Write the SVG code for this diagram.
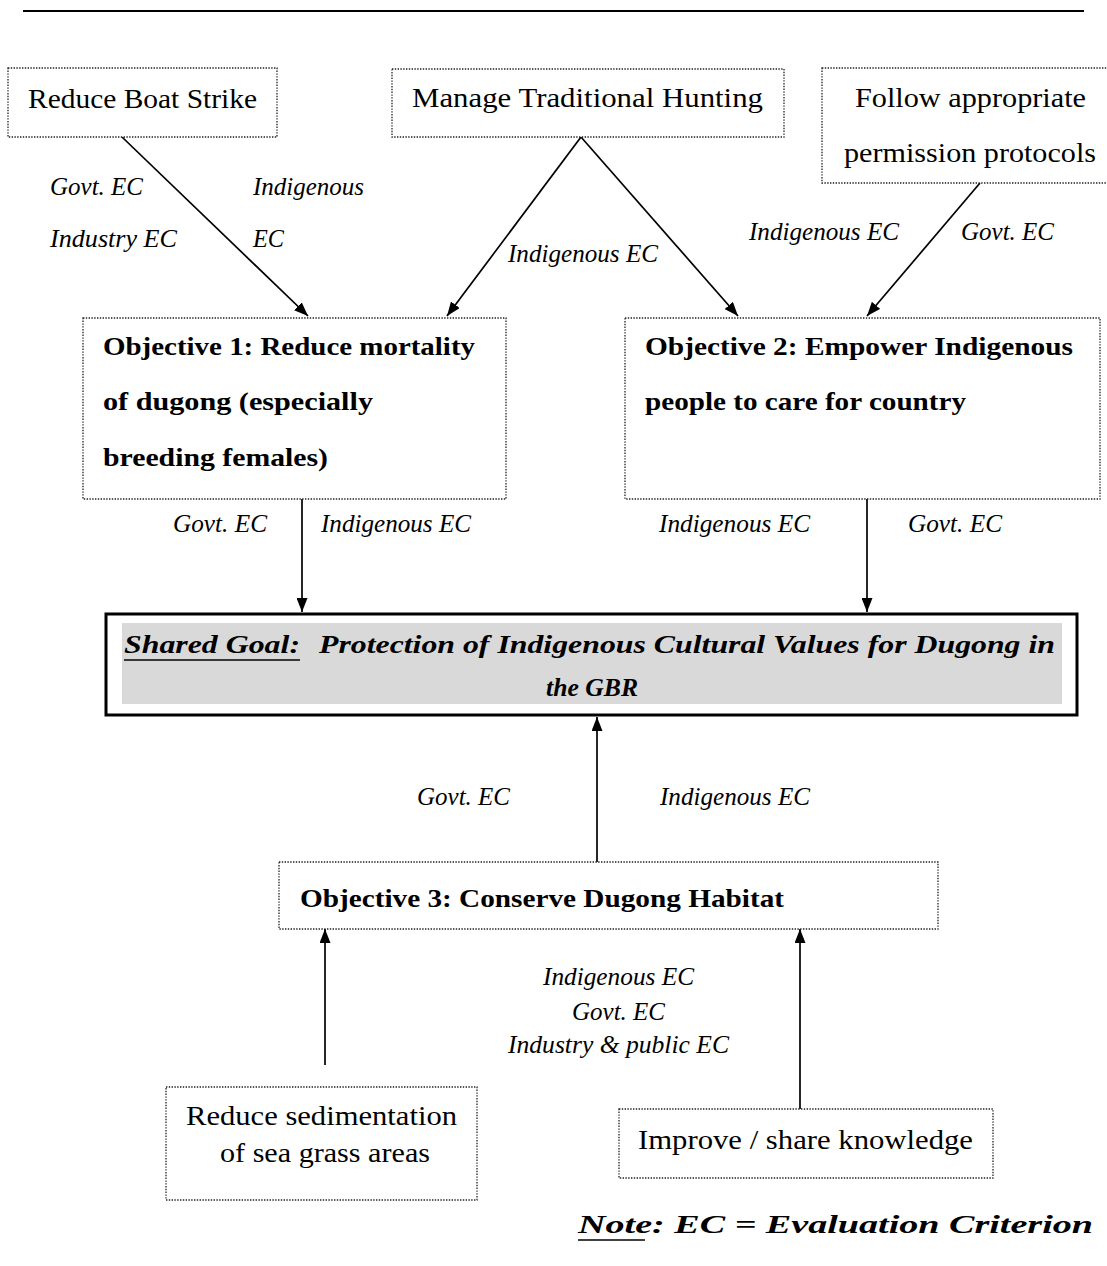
<svg xmlns="http://www.w3.org/2000/svg" width="1107" height="1266" viewBox="0 0 1107 1266">
<defs>
<marker id="arr" viewBox="0 0 14 11" refX="14" refY="5.5" markerWidth="14" markerHeight="11" markerUnits="userSpaceOnUse" orient="auto">
<path d="M0,0 L14,5.5 L0,11 Z" fill="#000"/>
</marker>
<style>
.box{fill:#fff;stroke:#222;stroke-width:1.3;stroke-dasharray:1.4 1.4}
.t{font-family:"Liberation Serif","DejaVu Serif",serif;font-size:27px;fill:#000}
.b{font-family:"Liberation Serif","DejaVu Serif",serif;font-size:26px;font-weight:bold;fill:#000}
.i{font-family:"Liberation Serif","DejaVu Serif",serif;font-size:25px;font-style:italic;fill:#000}
.bi{font-family:"Liberation Serif","DejaVu Serif",serif;font-size:26px;font-style:italic;font-weight:bold;fill:#000}
.c{stroke:#000;stroke-width:1.7;fill:none}
</style>
</defs>
<rect width="1107" height="1266" fill="#fff"/>
<line x1="23" y1="11" x2="1084" y2="11" stroke="#000" stroke-width="2.2"/>

<g id="connectors">
<line class="c" x1="122" y1="137" x2="308" y2="316" marker-end="url(#arr)"/>
<line class="c" x1="581" y1="137" x2="447" y2="316" marker-end="url(#arr)"/>
<line class="c" x1="581" y1="137" x2="738" y2="316" marker-end="url(#arr)"/>
<line class="c" x1="980" y1="183" x2="867" y2="316" marker-end="url(#arr)"/>
<line class="c" x1="302" y1="499" x2="302" y2="612" marker-end="url(#arr)"/>
<line class="c" x1="867" y1="499" x2="867" y2="612" marker-end="url(#arr)"/>
<line class="c" x1="597" y1="862" x2="597" y2="717" marker-end="url(#arr)"/>
<line class="c" x1="325" y1="1065" x2="325" y2="929" marker-end="url(#arr)"/>
<line class="c" x1="800" y1="1109" x2="800" y2="929" marker-end="url(#arr)"/>
</g>

<g id="labels">
<text class="i" x="50" y="195" textLength="93" lengthAdjust="spacingAndGlyphs">Govt. EC</text>
<text class="i" x="50" y="247" textLength="127" lengthAdjust="spacingAndGlyphs">Industry EC</text>
<text class="i" x="253" y="195" textLength="111" lengthAdjust="spacingAndGlyphs">Indigenous</text>
<text class="i" x="253" y="247" textLength="31" lengthAdjust="spacingAndGlyphs">EC</text>
<text class="i" x="508" y="262" textLength="150" lengthAdjust="spacingAndGlyphs">Indigenous EC</text>
<text class="i" x="749" y="240" textLength="150" lengthAdjust="spacingAndGlyphs">Indigenous EC</text>
<text class="i" x="961" y="240" textLength="93" lengthAdjust="spacingAndGlyphs">Govt. EC</text>
<text class="i" x="173" y="532" textLength="94" lengthAdjust="spacingAndGlyphs">Govt. EC</text>
<text class="i" x="321" y="532" textLength="150" lengthAdjust="spacingAndGlyphs">Indigenous EC</text>
<text class="i" x="659" y="532" textLength="151" lengthAdjust="spacingAndGlyphs">Indigenous EC</text>
<text class="i" x="908" y="532" textLength="94" lengthAdjust="spacingAndGlyphs">Govt. EC</text>
<text class="i" x="417" y="805" textLength="93" lengthAdjust="spacingAndGlyphs">Govt. EC</text>
<text class="i" x="660" y="805" textLength="150" lengthAdjust="spacingAndGlyphs">Indigenous EC</text>
<text class="i" x="543" y="985" textLength="151" lengthAdjust="spacingAndGlyphs">Indigenous EC</text>
<text class="i" x="572" y="1020" textLength="93" lengthAdjust="spacingAndGlyphs">Govt. EC</text>
<text class="i" x="508" y="1053" textLength="221" lengthAdjust="spacingAndGlyphs">Industry &amp; public EC</text>
</g>

<g id="node-boat">
<rect class="box" x="8" y="68" width="269" height="69"/>
<text class="t" x="28" y="108" textLength="229" lengthAdjust="spacingAndGlyphs">Reduce Boat Strike</text>
</g>
<g id="node-hunting">
<rect class="box" x="392" y="69" width="392" height="68"/>
<text class="t" x="412" y="107" textLength="351" lengthAdjust="spacingAndGlyphs">Manage Traditional Hunting</text>
</g>
<g id="node-permission">
<rect class="box" x="822" y="68" width="300" height="115"/>
<text class="t" x="855" y="107" textLength="231" lengthAdjust="spacingAndGlyphs">Follow appropriate</text>
<text class="t" x="844" y="162" textLength="252" lengthAdjust="spacingAndGlyphs">permission protocols</text>
</g>
<g id="node-obj1">
<rect class="box" x="83" y="318" width="423" height="181"/>
<text class="b" x="103" y="355" textLength="372" lengthAdjust="spacingAndGlyphs">Objective 1: Reduce mortality</text>
<text class="b" x="103" y="410" textLength="270" lengthAdjust="spacingAndGlyphs">of dugong (especially</text>
<text class="b" x="103" y="466" textLength="225" lengthAdjust="spacingAndGlyphs">breeding females)</text>
</g>
<g id="node-obj2">
<rect class="box" x="625" y="318" width="475" height="181"/>
<text class="b" x="645" y="355" textLength="428" lengthAdjust="spacingAndGlyphs">Objective 2: Empower Indigenous</text>
<text class="b" x="645" y="410" textLength="321" lengthAdjust="spacingAndGlyphs">people to care for country</text>
</g>
<g id="node-goal">
<rect x="106" y="614" width="971" height="101" fill="#fff" stroke="#000" stroke-width="3"/>
<rect x="122" y="623" width="940" height="81" fill="#d9d9d9"/>
<text class="bi" x="124" y="653" textLength="176" lengthAdjust="spacingAndGlyphs">Shared Goal:</text>
<line x1="124" y1="660" x2="300" y2="660" stroke="#000" stroke-width="1.5"/>
<text class="bi" x="319" y="653" textLength="736" lengthAdjust="spacingAndGlyphs">Protection of Indigenous Cultural Values for Dugong in</text>
<text class="bi" x="546" y="696" textLength="92" lengthAdjust="spacingAndGlyphs">the GBR</text>
</g>
<g id="node-obj3">
<rect class="box" x="279" y="862" width="659" height="67"/>
<text class="b" x="300" y="907" textLength="484" lengthAdjust="spacingAndGlyphs">Objective 3: Conserve Dugong Habitat</text>
</g>
<g id="node-sediment">
<rect class="box" x="166" y="1087" width="311" height="113"/>
<text class="t" x="186" y="1125" textLength="271" lengthAdjust="spacingAndGlyphs">Reduce sedimentation</text>
<text class="t" x="220" y="1162" textLength="210" lengthAdjust="spacingAndGlyphs">of sea grass areas</text>
</g>
<g id="node-knowledge">
<rect class="box" x="619" y="1109" width="374" height="69"/>
<text class="t" x="638" y="1149" textLength="335" lengthAdjust="spacingAndGlyphs">Improve / share knowledge</text>
</g>
<g id="note">
<text class="bi" x="578" y="1233" textLength="515" lengthAdjust="spacingAndGlyphs">Note:  EC = Evaluation Criterion</text>
<line x1="578" y1="1240" x2="645" y2="1240" stroke="#000" stroke-width="1.5"/>
</g>
</svg>
